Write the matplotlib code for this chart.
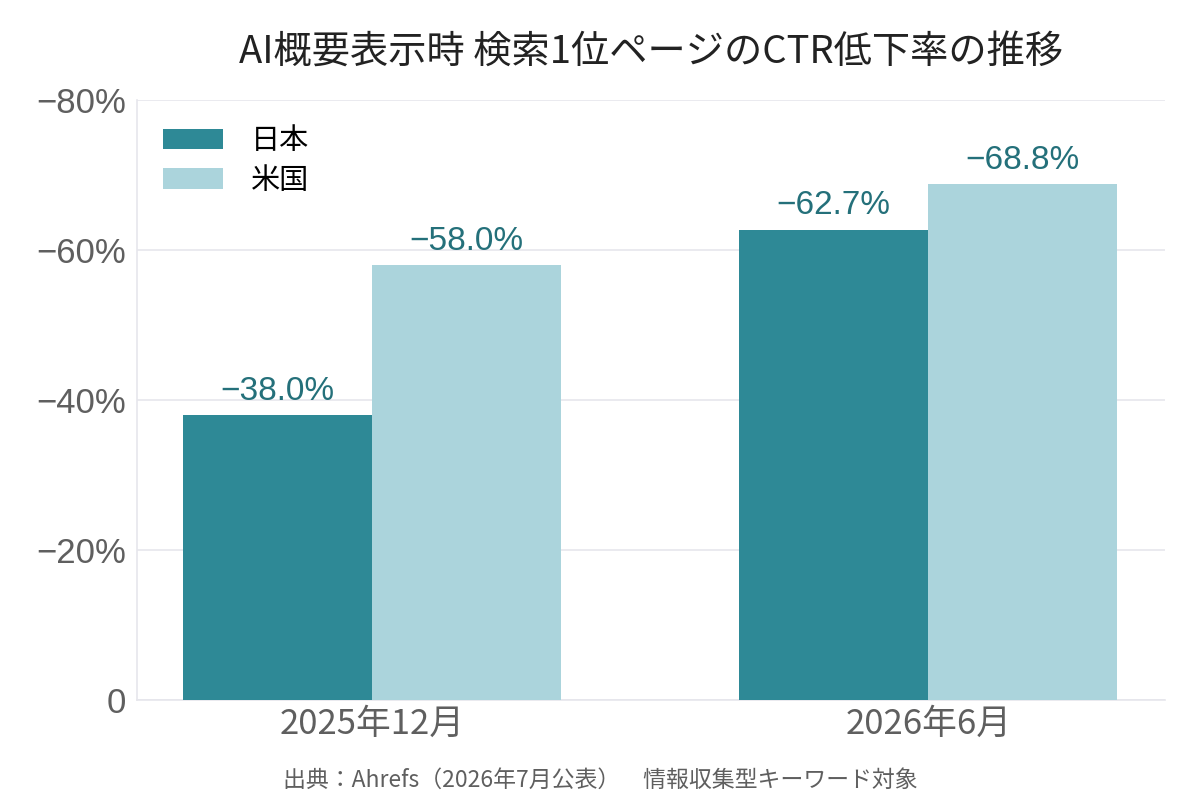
import numpy as np
import matplotlib
matplotlib.use("Agg")
import matplotlib.pyplot as plt
from matplotlib.ticker import FuncFormatter

# データ
periods = ["2025年12月", "2026年6月"]
series_names = ["日本", "米国"]
japan = [38.0, 62.7]
usa = [58.0, 68.8]
y_ticks = [0, 20, 40, 60, 80]

title = "AI概要表示時 検索1位ページのCTR低下率の推移"
source = "出典：Ahrefs（2026年7月公表）　情報収集型キーワード対象"

JP_FONT = ["Noto Sans CJK JP", "DejaVu Sans"]
NUM_FONT = ["Liberation Sans", "Noto Sans CJK JP", "DejaVu Sans"]

plt.rcParams["font.family"] = JP_FONT

c_jp = "#2e8996"
c_us = "#abd4dc"
c_label = "#24707a"
c_tick = "#5f5f5f"
c_grid = "#e6e6ec"

fig = plt.figure(figsize=(12, 8), dpi=100)
ax = fig.add_axes([0.114, 0.125, 0.857, 0.75])

x = np.arange(len(periods))
w = 0.34
b1 = ax.bar(x - w / 2, japan, w, color=c_jp, label=series_names[0], zorder=3)
b2 = ax.bar(x + w / 2, usa, w, color=c_us, label=series_names[1], zorder=3)

# 値ラベル
for bars, vals in ((b1, japan), (b2, usa)):
    for r, v in zip(bars, vals):
        ax.annotate(f"\u2212{v:.1f}%", (r.get_x() + r.get_width() / 2, r.get_height()),
                    xytext=(0, 11), textcoords="offset points",
                    ha="center", va="baseline", fontsize=24, color=c_label,
                    family=NUM_FONT, zorder=4)

ax.set_xlim(-0.423, 1.426)
ax.set_ylim(0, 80)
ax.set_yticks(y_ticks)
ax.yaxis.set_major_formatter(FuncFormatter(lambda v, _p: "0" if v == 0 else f"\u2212{v:.0f}%"))
ax.set_xticks(x)
ax.set_xticklabels(periods)

for lab in ax.get_yticklabels():
    lab.set_family(NUM_FONT)
ax.tick_params(axis="y", labelsize=25, colors=c_tick, length=0, pad=8)
ax.tick_params(axis="x", labelsize=25, colors=c_tick, length=0, pad=5)

ax.grid(axis="y", color=c_grid, linewidth=1.2, zorder=0)
for s in ("top", "right"):
    ax.spines[s].set_visible(False)
ax.spines["left"].set_color(c_grid)
ax.spines["bottom"].set_color(c_grid)
ax.spines["left"].set_linewidth(1.2)
ax.spines["bottom"].set_linewidth(1.2)

ax.set_title(title, fontsize=27.5, color="#222222", pad=26)

leg = ax.legend(loc="upper left", frameon=False, fontsize=21,
                handlelength=2.05, handleheight=0.72, handletextpad=0.95,
                labelspacing=0.33, borderaxespad=0.5)

fig.text(0.5, 0.017, source, ha="center", va="baseline", fontsize=16.5, color=c_tick)

fig.savefig("out.png", dpi=100)
